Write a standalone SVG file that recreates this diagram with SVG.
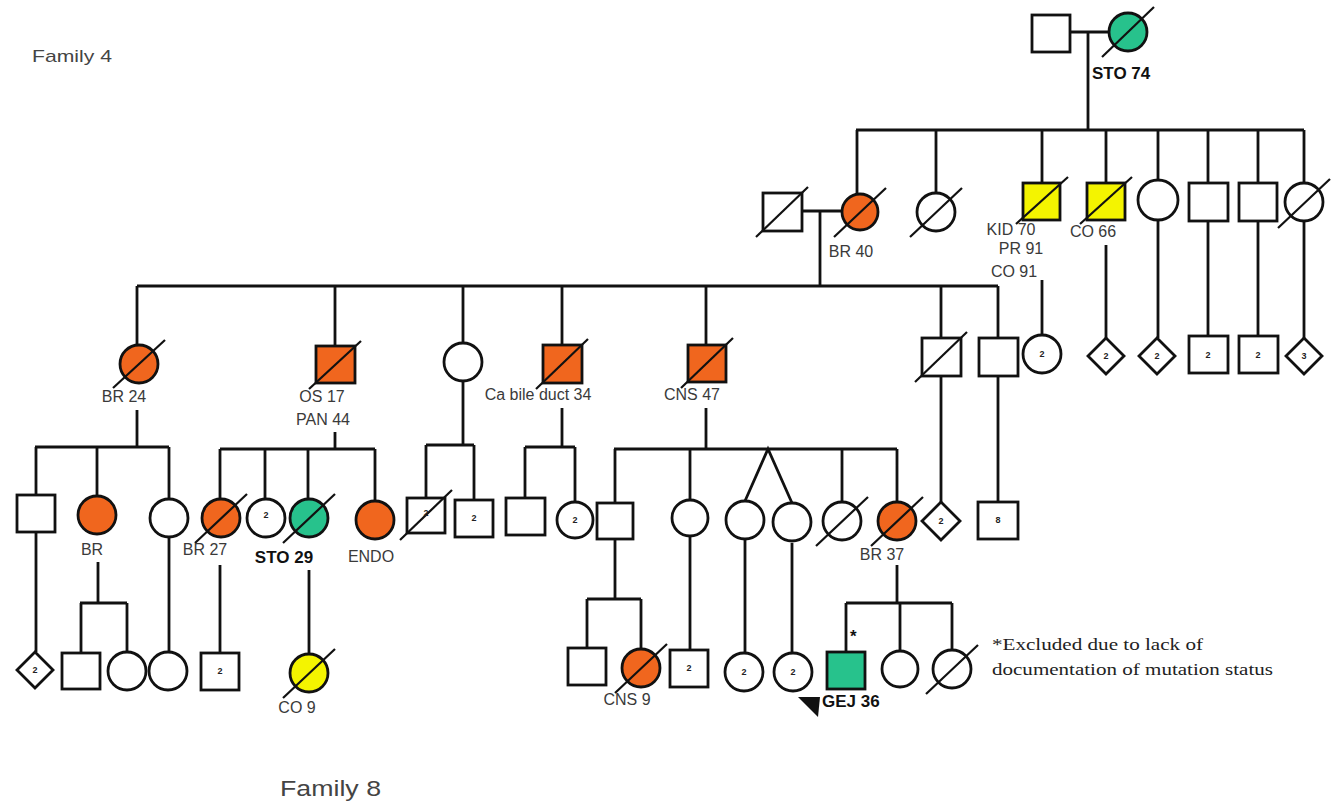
<svg xmlns="http://www.w3.org/2000/svg" width="1342" height="807" viewBox="0 0 1342 807">
<style>
.s{fill:#fff;stroke:#111;stroke-width:2.8}
.o{fill:#F0661E}
.g{fill:#27C28C}
.y{fill:#F4F400}
.sl{stroke:#111;stroke-width:2.2}
.ln{fill:none;stroke:#111;stroke-width:2.8}
.lb{font-family:"Liberation Sans",Arial,sans-serif;font-size:16px;fill:#3a3a3a;text-anchor:middle}
.b{font-family:"Liberation Sans",Arial,sans-serif;font-size:17px;font-weight:bold;fill:#111}
.n{font-family:"Liberation Sans",Arial,sans-serif;font-size:9px;font-weight:bold;fill:#222;text-anchor:middle}
.t{font-family:"Liberation Sans",Arial,sans-serif;fill:#444}
.fn{font-family:"Liberation Serif","Times New Roman",serif;font-size:17px;fill:#222}
</style>
<rect width="1342" height="807" fill="#fff"/>
<text class="t" x="32" y="62" font-size="17" textLength="80" lengthAdjust="spacingAndGlyphs">Family 4</text>
<text class="t" x="280" y="796" font-size="22" textLength="101" lengthAdjust="spacingAndGlyphs" fill="#555">Family 8</text>
<g id="connectors">
<path class="ln" d="M1070,32H1109M1088,32V130M856,130H1304M857,130V194M936,130V193M1042,130V183M1106,130V183M1158,130V180M1208,130V183M1258,130V183M1304,130V183"/>
<path class="ln" d="M802,211H841M820,211V286M137,286H998M137,286V345M335,286V346M463,286V343M562,286V345M706,286V345M941,286V338M998,286V338"/>
<path class="ln" d="M1042,280V335M1106,245V338M1158,220V338M1208,221V336M1258,221V336M1304,221V338"/>
<path class="ln" d="M137,410V447M35,447H169M36,447V495M97,447V496M169,447V499"/>
<path class="ln" d="M335,432V449M220,449H375M220,449V499M265,449V499M308,449V499M375,449V501"/>
<path class="ln" d="M463,381V445M426,445H474M426,445V498M474,445V500"/>
<path class="ln" d="M562,408V447M525,447H575M525,447V498M575,447V502"/>
<path class="ln" d="M706,408V449M614,449H897M615,449V503M690,449V500M842,449V502M897,449V502M745,501L768,449L792,503"/>
<path class="ln" d="M941,376V502M998,376V502"/>
<path class="ln" d="M36,532V652M98,562V603M80,603H127M81,603V653M127,603V652M169,537V652M220,565V653M309,570V654"/>
<path class="ln" d="M615,539V599M587,599H641M587,599V648M641,599V649M690,537V650M745,539V653M792,543V653"/>
<path class="ln" d="M897,565V603M846,603H952M846,603V652M900,603V651M952,603V650"/>
</g>
<g id="g1a"><rect class="s" x="1032" y="15" width="38" height="37" stroke-width="3.5"/></g>
<g id="g1b"><circle class="s g" cx="1128" cy="32" r="19"/><line class="sl" x1="1102" y1="57" x2="1154" y2="7"/><text class="b" x="1092" y="79">STO 74</text></g>
<g id="g2a"><rect class="s" x="763" y="193" width="39" height="38"/><line class="sl" x1="756" y1="237" x2="808" y2="187"/></g>
<g id="g2b"><circle class="s o" cx="860" cy="212" r="18"/><line class="sl" x1="834" y1="237" x2="886" y2="188"/><text class="lb" x="851" y="257">BR 40</text></g>
<g id="g2c"><circle class="s" cx="936" cy="212" r="19"/><line class="sl" x1="910" y1="237" x2="962" y2="188"/></g>
<g id="g2d"><rect class="s y" x="1023" y="183" width="37" height="37"/><line class="sl" x1="1016" y1="224" x2="1068" y2="177"/><text class="lb" x="1011" y="235">KID 70</text><text class="lb" x="1021" y="254">PR 91</text><text class="lb" x="1014" y="277">CO 91</text></g>
<g id="g2e"><rect class="s y" x="1087" y="183" width="38" height="37"/><line class="sl" x1="1080" y1="224" x2="1132" y2="177"/><text class="lb" x="1093" y="237">CO 66</text></g>
<g id="g2f"><circle class="s" cx="1158" cy="200" r="20"/></g>
<g id="g2g"><rect class="s" x="1189" y="183" width="39" height="38"/></g>
<g id="g2h"><rect class="s" x="1239" y="183" width="38" height="38"/></g>
<g id="g2i"><circle class="s" cx="1304" cy="202" r="19"/><line class="sl" x1="1278" y1="228" x2="1330" y2="179"/></g>
<g id="g3a"><circle class="s o" cx="139" cy="364" r="19"/><line class="sl" x1="113" y1="388" x2="165" y2="340"/><text class="lb" x="124" y="402">BR 24</text></g>
<g id="g3b"><rect class="s o" x="316" y="346" width="39" height="37"/><line class="sl" x1="309" y1="389" x2="361" y2="341"/><text class="lb" x="322" y="402">OS 17</text><text class="lb" x="323" y="425">PAN 44</text></g>
<g id="g3c"><circle class="s" cx="463" cy="362" r="19"/></g>
<g id="g3d"><rect class="s o" x="543" y="345" width="39" height="38"/><line class="sl" x1="536" y1="389" x2="588" y2="339"/><text class="lb" x="538" y="400">Ca bile duct 34</text></g>
<g id="g3e"><rect class="s o" x="688" y="345" width="38" height="37"/><line class="sl" x1="681" y1="388" x2="733" y2="338"/><text class="lb" x="692" y="400">CNS 47</text></g>
<g id="g3f"><rect class="s" x="922" y="338" width="39" height="38"/><line class="sl" x1="915" y1="382" x2="967" y2="332"/></g>
<g id="g3g"><rect class="s" x="979" y="338" width="39" height="38"/></g>
<g id="g3h"><circle class="s" cx="1042" cy="354" r="19"/><text class="n" x="1042" y="357">2</text></g>
<g id="g3i"><path class="s" d="M1106,338L1124,356L1106,374L1088,356Z"/><text class="n" x="1106" y="359">2</text></g>
<g id="g3j"><path class="s" d="M1157,338L1175,356L1157,374L1139,356Z"/><text class="n" x="1157" y="359">2</text></g>
<g id="g3k"><rect class="s" x="1189" y="336" width="39" height="37"/><text class="n" x="1208" y="358">2</text></g>
<g id="g3l"><rect class="s" x="1239" y="336" width="39" height="37"/><text class="n" x="1258" y="358">2</text></g>
<g id="g3m"><path class="s" d="M1304,338L1322,356L1304,374L1286,356Z"/><text class="n" x="1304" y="359">3</text></g>
<g id="g4a"><rect class="s" x="17" y="495" width="38" height="37"/></g>
<g id="g4b"><circle class="s o" cx="97" cy="515" r="19"/><text class="lb" x="92" y="555">BR</text></g>
<g id="g4c"><circle class="s" cx="169" cy="518" r="19"/></g>
<g id="g4d"><circle class="s o" cx="221" cy="518" r="19"/><line class="sl" x1="195" y1="543" x2="247" y2="494"/><text class="lb" x="205" y="555">BR 27</text></g>
<g id="g4e"><circle class="s" cx="266" cy="518" r="19"/><text class="n" x="266" y="518">2</text></g>
<g id="g4f"><circle class="s g" cx="309" cy="518" r="19"/><line class="sl" x1="283" y1="543" x2="335" y2="494"/><text class="b" x="284" y="563" text-anchor="middle">STO 29</text></g>
<g id="g4g"><circle class="s o" cx="375" cy="520" r="19"/><text class="lb" x="371" y="562">ENDO</text></g>
<g id="g4h"><rect class="s" x="407" y="498" width="38" height="35"/><line class="sl" x1="400" y1="540" x2="452" y2="490"/><text class="n" x="426" y="516">2</text></g>
<g id="g4i"><rect class="s" x="455" y="500" width="38" height="37"/><text class="n" x="474" y="521">2</text></g>
<g id="g4j"><rect class="s" x="506" y="498" width="39" height="37"/></g>
<g id="g4k"><circle class="s" cx="575" cy="520" r="18"/><text class="n" x="575" y="523">2</text></g>
<g id="g4l"><rect class="s" x="597" y="503" width="36" height="36"/></g>
<g id="g4m"><circle class="s" cx="690" cy="518" r="18"/></g>
<g id="g4n"><circle class="s" cx="745" cy="520" r="19"/></g>
<g id="g4o"><circle class="s" cx="792" cy="522" r="19"/></g>
<g id="g4p"><circle class="s" cx="842" cy="521" r="19"/><line class="sl" x1="816" y1="546" x2="868" y2="497"/></g>
<g id="g4q"><circle class="s o" cx="897" cy="521" r="19"/><line class="sl" x1="871" y1="546" x2="923" y2="497"/><text class="lb" x="882" y="560">BR 37</text></g>
<g id="g4r"><path class="s" d="M941,502L960,521L941,540L922,521Z"/><text class="n" x="941" y="524">2</text></g>
<g id="g4s"><rect class="s" x="978" y="502" width="40" height="37"/><text class="n" x="998" y="523">8</text></g>
<g id="g5a"><path class="s" d="M35,652L53,670L35,688L17,670Z"/><text class="n" x="35" y="673">2</text></g>
<g id="g5b"><rect class="s" x="62" y="653" width="38" height="36"/></g>
<g id="g5c"><circle class="s" cx="127" cy="671" r="19"/></g>
<g id="g5d"><circle class="s" cx="168" cy="671" r="19"/></g>
<g id="g5e"><rect class="s" x="201" y="653" width="38" height="37"/><text class="n" x="220" y="674">2</text></g>
<g id="g5f"><circle class="s y" cx="309" cy="673" r="19"/><line class="sl" x1="283" y1="698" x2="335" y2="649"/><text class="lb" x="297" y="713">CO 9</text></g>
<g id="g5g"><rect class="s" x="568" y="648" width="38" height="37"/></g>
<g id="g5h"><circle class="s o" cx="641" cy="668" r="19"/><line class="sl" x1="615" y1="693" x2="667" y2="644"/><text class="lb" x="627" y="705">CNS 9</text></g>
<g id="g5i"><rect class="s" x="670" y="650" width="38" height="37"/><text class="n" x="689" y="671">2</text></g>
<g id="g5j"><circle class="s" cx="744" cy="672" r="19"/><text class="n" x="744" y="675">2</text></g>
<g id="g5k"><circle class="s" cx="793" cy="672" r="19"/><text class="n" x="793" y="675">2</text><path d="M798,697H820L818,717Z" fill="#111"/></g>
<g id="g5l"><rect class="s g" x="827" y="652" width="38" height="37"/><text class="b" x="850" y="642" font-size="15">*</text><text class="b" x="822" y="707" font-size="16">GEJ 36</text></g>
<g id="g5m"><circle class="s" cx="900" cy="669" r="18"/></g>
<g id="g5n"><circle class="s" cx="952" cy="669" r="19"/><line class="sl" x1="926" y1="694" x2="978" y2="645"/></g>
<g id="note"><text class="fn" x="992" y="650" textLength="211" lengthAdjust="spacingAndGlyphs">*Excluded due to lack of</text><text class="fn" x="992" y="675" textLength="281" lengthAdjust="spacingAndGlyphs">documentation of mutation status</text></g>
</svg>
